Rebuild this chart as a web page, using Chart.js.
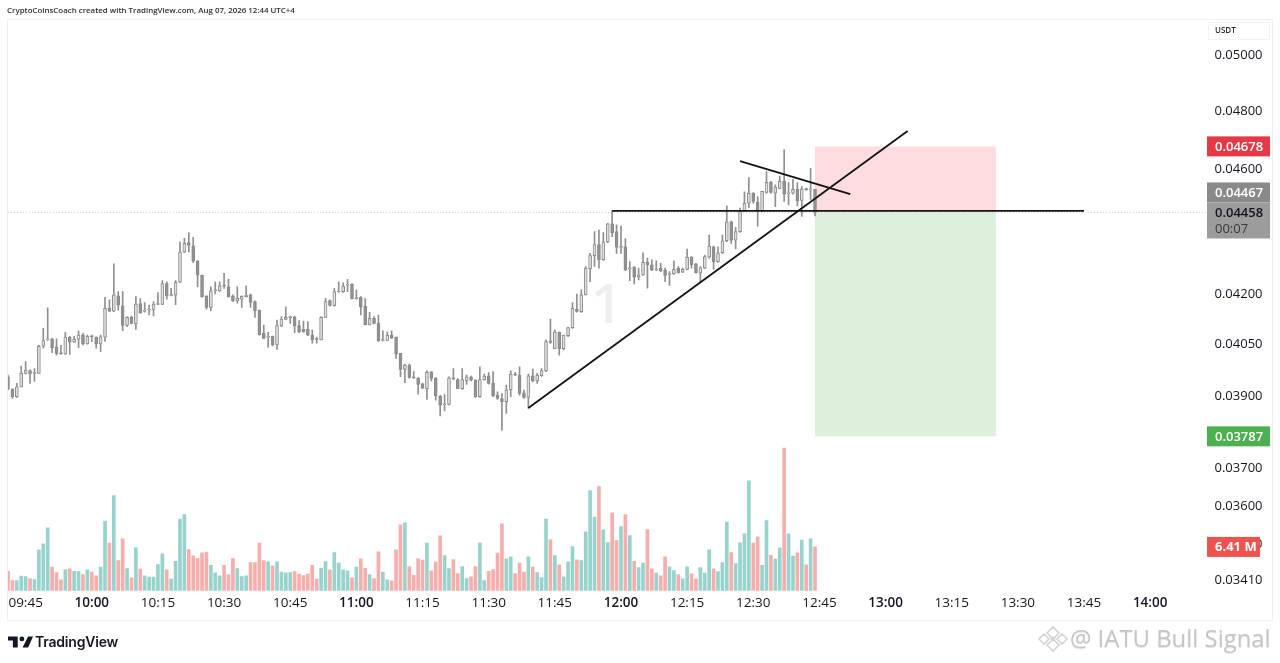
<!DOCTYPE html>
<html>
<head>
<meta charset="utf-8">
<title>CryptoCoinsCoach chart</title>
<script src="https://cdn.jsdelivr.net/npm/chart.js@4/dist/chart.umd.min.js"></script>
<style>
    html, body { margin: 0; padding: 0; background: #fff; }
    body { width: 1280px; height: 663px; overflow: hidden; position: relative; font-family: 'Open Sans', sans-serif; }
    #priceChart { position: absolute; left: 0; top: 0; }
    .header { position: absolute; left: 7px; top: 4px; font-size: 7.9px; line-height: 12px; font-weight: 600; color: #2a2e39; white-space: nowrap; }
    .interval { position: absolute; left: 591px; top: 267px; font-size: 54px; line-height: 70px; font-weight: 600; color: #efefef; }
    .tvLogo { position: absolute; left: 8px; top: 635px; }
    .tvName { position: absolute; left: 35px; top: 632px; font-family: Inter, sans-serif; font-size: 14px; line-height: 20px; font-weight: 600; color: #131722; letter-spacing: -0.2px; }
    .stamp { position: absolute; left: 1070px; top: 621px; font-size: 23.9px; line-height: 34px; color: #c6c6c6; white-space: nowrap; text-shadow: 0 1px 1px #e4e4e4; }
    .stampLogo { position: absolute; left: 1037px; top: 625px; }
</style>
</head>
<body>
<canvas id="priceChart" width="1280" height="663"></canvas>
<div class="header">CryptoCoinsCoach created with TradingView.com, Aug 07, 2026 12:44 UTC+4</div>
<div class="interval">1</div>
<svg class="tvLogo" width="25" height="14" viewBox="0 0 36 20"><path fill="#131722" d="M14 2H0v6h7v10h7zM29 18h-8l8-16h7z"/><circle cx="20" cy="5.5" r="3.5" fill="#131722"/></svg>
<div class="tvName">TradingView</div>
<svg class="stampLogo" width="32" height="28" viewBox="0 0 32 28" fill="none" stroke="#d4d4d4" stroke-width="1.6"><path d="M16 2l6 6-6 6-6-6zM7 9l5 5-5 5-5-5zM25 9l5 5-5 5-5-5zM16 14l6 6-6 6-6-6z"/><circle cx="16" cy="14" r="1.6" fill="#d4d4d4"/></svg>
<div class="stamp">@ IATU Bull Signal</div>

<script>
// one candle per minute, first one is 09:41
const opens = [
    0.03955, 0.03919, 0.03898, 0.03926, 0.03965, 0.03973, 0.03965, 0.03965, 0.04044, 0.04063,
    0.04065, 0.04042, 0.04024, 0.04021, 0.04071, 0.04056, 0.04065, 0.04078, 0.04051, 0.04074,
    0.04071, 0.04051, 0.04071, 0.04157, 0.04149, 0.04195, 0.04165, 0.04106, 0.04130, 0.04110,
    0.04172, 0.04148, 0.04152, 0.04154, 0.04169, 0.04169, 0.04233, 0.04196, 0.04197, 0.04237,
    0.04331, 0.04361, 0.04351, 0.04304, 0.04259, 0.04195, 0.04160, 0.04211, 0.04210, 0.04226,
    0.04223, 0.04195, 0.04180, 0.04185, 0.04193, 0.04198, 0.04178, 0.04152, 0.04082, 0.04070,
    0.04074, 0.04048, 0.04104, 0.04124, 0.04129, 0.04130, 0.04105, 0.04094, 0.04094, 0.04077,
    0.04065, 0.04063, 0.04130, 0.04181, 0.04165, 0.04207, 0.04208, 0.04228, 0.04231, 0.04187,
    0.04191, 0.04164, 0.04107, 0.04127, 0.04112, 0.04061, 0.04061, 0.04077, 0.04070, 0.04023,
    0.03976, 0.03989, 0.03953, 0.03951, 0.03935, 0.03921, 0.03969, 0.03951, 0.03900, 0.03875,
    0.03876, 0.03951, 0.03947, 0.03921, 0.03943, 0.03955, 0.03945, 0.03898, 0.03947, 0.03958,
    0.03936, 0.03902, 0.03893, 0.03884, 0.03918, 0.03962, 0.03960, 0.03909, 0.03896, 0.03958,
    0.03943, 0.03958, 0.03972, 0.04060, 0.04037, 0.04085, 0.04037, 0.04075, 0.04099, 0.04154,
    0.04147, 0.04198, 0.04279, 0.04320, 0.04355, 0.04307, 0.04363, 0.04421, 0.04396, 0.04346,
    0.04348, 0.04279, 0.04284, 0.04253, 0.04260, 0.04299, 0.04291, 0.04275, 0.04281, 0.04275,
    0.04261, 0.04263, 0.04281, 0.04268, 0.04277, 0.04315, 0.04294, 0.04265, 0.04281, 0.04315,
    0.04348, 0.04301, 0.04329, 0.04367, 0.04428, 0.04369, 0.04396, 0.04463, 0.04488, 0.04521,
    0.04491, 0.04463, 0.04524, 0.04557, 0.04521, 0.04537, 0.04560, 0.04519, 0.04521, 0.04534,
    0.04497, 0.04535, 0.04532, 0.04534
];
const closes = [
    0.03921, 0.03898, 0.03926, 0.03965, 0.03974, 0.03963, 0.03966, 0.04044, 0.04061, 0.04066,
    0.04040, 0.04023, 0.04022, 0.04071, 0.04056, 0.04065, 0.04077, 0.04051, 0.04073, 0.04072,
    0.04051, 0.04072, 0.04157, 0.04149, 0.04198, 0.04167, 0.04106, 0.04130, 0.04112, 0.04170,
    0.04144, 0.04150, 0.04154, 0.04170, 0.04170, 0.04233, 0.04195, 0.04197, 0.04237, 0.04331,
    0.04359, 0.04352, 0.04304, 0.04259, 0.04193, 0.04160, 0.04211, 0.04213, 0.04226, 0.04225,
    0.04193, 0.04180, 0.04188, 0.04194, 0.04197, 0.04175, 0.04150, 0.04078, 0.04067, 0.04072,
    0.04048, 0.04105, 0.04125, 0.04130, 0.04130, 0.04105, 0.04087, 0.04087, 0.04077, 0.04063,
    0.04064, 0.04130, 0.04178, 0.04166, 0.04208, 0.04208, 0.04225, 0.04230, 0.04186, 0.04189,
    0.04162, 0.04107, 0.04127, 0.04112, 0.04060, 0.04062, 0.04077, 0.04068, 0.04021, 0.03976,
    0.03989, 0.03953, 0.03952, 0.03933, 0.03923, 0.03968, 0.03950, 0.03900, 0.03874, 0.03877,
    0.03952, 0.03949, 0.03921, 0.03947, 0.03955, 0.03945, 0.03898, 0.03947, 0.03957, 0.03936,
    0.03901, 0.03893, 0.03884, 0.03917, 0.03963, 0.03960, 0.03907, 0.03896, 0.03958, 0.03943,
    0.03960, 0.03973, 0.04058, 0.04055, 0.04087, 0.04037, 0.04077, 0.04099, 0.04157, 0.04148,
    0.04198, 0.04281, 0.04320, 0.04355, 0.04307, 0.04364, 0.04421, 0.04393, 0.04346, 0.04348,
    0.04275, 0.04282, 0.04253, 0.04260, 0.04299, 0.04291, 0.04275, 0.04277, 0.04273, 0.04258,
    0.04263, 0.04277, 0.04267, 0.04277, 0.04315, 0.04291, 0.04267, 0.04282, 0.04317, 0.04350,
    0.04301, 0.04329, 0.04367, 0.04428, 0.04369, 0.04396, 0.04461, 0.04488, 0.04521, 0.04494,
    0.04463, 0.04527, 0.04557, 0.04524, 0.04541, 0.04560, 0.04518, 0.04521, 0.04534, 0.04496,
    0.04535, 0.04533, 0.04534, 0.04458
];
const highs = [
    0.03960, 0.03921, 0.03936, 0.03986, 0.03999, 0.03975, 0.03979, 0.04047, 0.04097, 0.04159,
    0.04068, 0.04066, 0.04047, 0.04085, 0.04073, 0.04073, 0.04090, 0.04082, 0.04077, 0.04077,
    0.04072, 0.04077, 0.04191, 0.04183, 0.04294, 0.04208, 0.04208, 0.04132, 0.04134, 0.04193,
    0.04187, 0.04175, 0.04167, 0.04178, 0.04205, 0.04242, 0.04238, 0.04218, 0.04242, 0.04364,
    0.04375, 0.04393, 0.04378, 0.04304, 0.04259, 0.04195, 0.04223, 0.04238, 0.04238, 0.04265,
    0.04246, 0.04198, 0.04223, 0.04195, 0.04226, 0.04201, 0.04180, 0.04152, 0.04107, 0.04085,
    0.04074, 0.04122, 0.04132, 0.04162, 0.04134, 0.04134, 0.04120, 0.04119, 0.04117, 0.04092,
    0.04071, 0.04132, 0.04188, 0.04183, 0.04218, 0.04238, 0.04235, 0.04246, 0.04233, 0.04213,
    0.04193, 0.04187, 0.04145, 0.04132, 0.04137, 0.04090, 0.04087, 0.04090, 0.04072, 0.04023,
    0.03992, 0.03992, 0.03970, 0.03953, 0.03937, 0.03972, 0.03970, 0.03953, 0.03902, 0.03904,
    0.03955, 0.03979, 0.03950, 0.03979, 0.03960, 0.03957, 0.03947, 0.03984, 0.03963, 0.03967,
    0.03970, 0.03912, 0.03907, 0.03931, 0.03972, 0.03967, 0.03984, 0.03917, 0.03963, 0.03977,
    0.03965, 0.03979, 0.04063, 0.04125, 0.04092, 0.04087, 0.04077, 0.04101, 0.04175, 0.04201,
    0.04214, 0.04286, 0.04327, 0.04396, 0.04401, 0.04393, 0.04423, 0.04464, 0.04418, 0.04414,
    0.04374, 0.04301, 0.04286, 0.04281, 0.04329, 0.04312, 0.04307, 0.04304, 0.04296, 0.04281,
    0.04270, 0.04304, 0.04286, 0.04281, 0.04341, 0.04317, 0.04296, 0.04286, 0.04322, 0.04385,
    0.04350, 0.04348, 0.04385, 0.04480, 0.04430, 0.04410, 0.04472, 0.04526, 0.04573, 0.04523,
    0.04510, 0.04527, 0.04593, 0.04560, 0.04549, 0.04578, 0.04666, 0.04556, 0.04567, 0.04556,
    0.04543, 0.04538, 0.04604, 0.04534
];
const lows = [
    0.03917, 0.03893, 0.03896, 0.03926, 0.03963, 0.03936, 0.03942, 0.03965, 0.04038, 0.04061,
    0.04025, 0.04018, 0.04021, 0.04021, 0.04020, 0.04055, 0.04040, 0.04048, 0.04050, 0.04058,
    0.04038, 0.04028, 0.04058, 0.04147, 0.04147, 0.04152, 0.04090, 0.04102, 0.04110, 0.04094,
    0.04142, 0.04146, 0.04137, 0.04134, 0.04168, 0.04168, 0.04185, 0.04195, 0.04168, 0.04236,
    0.04329, 0.04332, 0.04298, 0.04223, 0.04191, 0.04155, 0.04150, 0.04201, 0.04209, 0.04218,
    0.04191, 0.04178, 0.04173, 0.04160, 0.04191, 0.04160, 0.04130, 0.04077, 0.04066, 0.04041,
    0.04045, 0.04035, 0.04102, 0.04124, 0.04112, 0.04084, 0.04084, 0.04086, 0.04075, 0.04053,
    0.04053, 0.04063, 0.04130, 0.04164, 0.04164, 0.04206, 0.04206, 0.04208, 0.04186, 0.04185,
    0.04137, 0.04107, 0.04107, 0.04110, 0.04058, 0.04060, 0.04061, 0.04066, 0.04008, 0.03955,
    0.03938, 0.03951, 0.03950, 0.03905, 0.03921, 0.03890, 0.03943, 0.03888, 0.03844, 0.03858,
    0.03875, 0.03947, 0.03921, 0.03919, 0.03933, 0.03943, 0.03896, 0.03896, 0.03945, 0.03934,
    0.03898, 0.03890, 0.03804, 0.03851, 0.03898, 0.03958, 0.03902, 0.03893, 0.03865, 0.03940,
    0.03936, 0.03956, 0.03970, 0.04052, 0.04037, 0.04018, 0.04033, 0.04072, 0.04097, 0.04146,
    0.04145, 0.04197, 0.04239, 0.04286, 0.04281, 0.04305, 0.04361, 0.04380, 0.04327, 0.04327,
    0.04273, 0.04242, 0.04232, 0.04244, 0.04258, 0.04219, 0.04273, 0.04273, 0.04270, 0.04239,
    0.04227, 0.04261, 0.04265, 0.04267, 0.04275, 0.04281, 0.04265, 0.04239, 0.04279, 0.04312,
    0.04277, 0.04299, 0.04327, 0.04364, 0.04359, 0.04341, 0.04394, 0.04461, 0.04474, 0.04488,
    0.04414, 0.04461, 0.04521, 0.04521, 0.04477, 0.04535, 0.04494, 0.04483, 0.04518, 0.04479,
    0.04445, 0.04530, 0.04501, 0.04447
];
// volume in millions
const volumes = [
    2.84, 1.47, 1.47, 2.11, 2.06, 1.72, 1.62, 5.98, 6.86, 9.21,
    3.43, 2.65, 1.57, 3.09, 3.19, 2.84, 2.79, 2.35, 3.04, 2.70,
    2.16, 3.43, 10.19, 6.96, 13.97, 4.41, 7.60, 3.23, 1.86, 6.27,
    3.14, 2.16, 1.96, 1.96, 3.82, 5.39, 3.04, 1.67, 4.31, 10.49,
    11.17, 6.03, 5.10, 4.70, 5.54, 5.64, 3.72, 2.60, 2.16, 3.72,
    2.35, 4.70, 3.23, 2.06, 2.16, 4.12, 4.12, 6.96, 4.41, 4.21,
    3.63, 4.21, 2.70, 2.60, 2.65, 2.79, 2.40, 2.21, 2.40, 3.72,
    1.67, 3.28, 4.26, 3.04, 5.59, 4.02, 3.04, 2.89, 1.86, 3.43,
    4.66, 3.28, 2.35, 1.76, 5.68, 2.70, 1.57, 1.42, 5.98, 9.65,
    9.95, 3.53, 2.25, 4.66, 4.46, 6.96, 2.89, 4.17, 8.04, 5.15,
    3.23, 4.56, 2.50, 3.53, 1.76, 2.01, 3.53, 6.96, 1.47, 2.84,
    3.09, 5.49, 9.80, 4.66, 4.95, 2.50, 4.02, 2.70, 4.95, 3.43,
    2.65, 1.91, 10.49, 7.45, 5.15, 3.77, 2.01, 4.21, 6.47, 4.51,
    4.41, 8.62, 14.70, 10.78, 15.29, 8.92, 7.06, 11.42, 7.35, 9.41,
    11.17, 8.09, 4.31, 3.38, 4.02, 8.97, 3.19, 2.55, 2.16, 4.95,
    3.48, 2.94, 2.35, 1.72, 3.48, 2.45, 1.72, 3.38, 2.55, 5.98,
    3.19, 2.79, 4.12, 10.05, 5.59, 3.97, 7.01, 8.33, 16.12, 6.96,
    7.89, 3.72, 10.29, 5.19, 4.61, 6.27, 20.92, 8.33, 5.05, 5.54,
    7.40, 3.77, 7.60, 6.41
];

const timeTicks = ['09:45', '10:00', '10:15', '10:30', '10:45', '11:00', '11:15', '11:30', '11:45', '12:00',
    '12:15', '12:30', '12:45', '13:00', '13:15', '13:30', '13:45', '14:00'];
const priceTicks = [0.05, 0.048, 0.046, 0.042, 0.0405, 0.039, 0.037, 0.036, 0.035, 0.0341];

// drawings on the chart, all of them snap to a bar
const breakoutLine = [{ x: '11:58', y: 0.04463 }, { x: '13:45', y: 0.04463 }];
const supportLine = [{ x: '11:39', y: 0.03866 }, { x: '13:05', y: 0.04731 }];
const resistanceLine = [{ x: '12:27', y: 0.04628 }, { x: '12:52', y: 0.04518 }];
const lastPriceLine = [{ x: '09:41', y: 0.04458 }, { x: '14:13', y: 0.04458 }];
const positionStart = '12:44';
const positionEnd = '13:25';
const stopPrice = 0.04678;
const entryPrice = 0.04458;
const targetPrice = 0.03787;
const currentPrice = 0.04467;

// minute labels from 09:41 to 14:13
const minuteLabels = [];
for (let m = 9 * 60 + 41; m <= 14 * 60 + 13; m++) {
    minuteLabels.push(String(Math.floor(m / 60)).padStart(2, '0') + ':' + String(m % 60).padStart(2, '0'));
}

const candleIdx = opens.map((_, i) => i);
const isUp = i => closes[i] >= opens[i];

const AXIS_FONT = "'Open Sans', sans-serif";

// frame of the pane + the long/short position boxes behind the candles
const paneDecor = {
    id: 'paneDecor',
    beforeDatasetsDraw(chart) {
        const { ctx, scales: { x, y } } = chart;
        ctx.save();
        ctx.strokeStyle = '#efefef';
        ctx.lineWidth = 1;
        ctx.strokeRect(7.5, 19.5, 1265, 601);

        const left = x.getPixelForValue(minuteLabels.indexOf(positionStart));
        const right = x.getPixelForValue(minuteLabels.indexOf(positionEnd));
        const top = y.getPixelForValue(stopPrice);
        const mid = y.getPixelForValue(entryPrice);
        const bottom = y.getPixelForValue(targetPrice);
        ctx.fillStyle = '#fddde0';
        ctx.fillRect(left, top, right - left, mid - top);
        ctx.fillStyle = '#ddf0dc';
        ctx.fillRect(left, mid, right - left, bottom - mid);
        ctx.restore();
    }
};

function drawTag(ctx, left, width, cy, height, bg, fg, text, weight) {
    ctx.fillStyle = bg;
    ctx.fillRect(left, cy - height / 2, width, height);
    ctx.fillStyle = fg;
    ctx.font = (weight || 600) + ' 13px ' + AXIS_FONT;
    ctx.textAlign = 'left';
    ctx.textBaseline = 'middle';
    ctx.fillText(text, left + 8, cy + 0.5);
}

// price labels on the right axis
const axisTags = {
    id: 'axisTags',
    afterDraw(chart) {
        const { ctx, scales: { y, volume } } = chart;
        ctx.save();

        // USDT box
        ctx.strokeStyle = '#f2f2f2';
        ctx.strokeRect(1208.5, 22.5, 61, 17);
        ctx.fillStyle = '#2a2e39';
        ctx.font = '600 8px ' + AXIS_FONT;
        ctx.textAlign = 'left';
        ctx.textBaseline = 'middle';
        ctx.fillText('USDT', 1215, 31);

        drawTag(ctx, 1207, 63, y.getPixelForValue(stopPrice), 20, '#e63946', '#fff', stopPrice.toFixed(5));
        drawTag(ctx, 1207, 63, y.getPixelForValue(targetPrice), 20, '#4caf50', '#fff', targetPrice.toFixed(5));

        // these two overlap on the scale so TradingView stacks them
        const entryY = y.getPixelForValue(entryPrice);
        drawTag(ctx, 1207, 63, entryY - 20, 20, '#8a8a8a', '#fff', currentPrice.toFixed(5));
        ctx.fillStyle = '#9c9c9c';
        ctx.fillRect(1207, entryY - 10, 63, 36);
        ctx.fillStyle = '#131722';
        ctx.font = '600 13px ' + AXIS_FONT;
        ctx.fillText(entryPrice.toFixed(5), 1215, entryY + 0.5);
        ctx.fillStyle = '#3a3a3a';
        ctx.font = '400 13px ' + AXIS_FONT;
        ctx.fillText('00:07', 1215, entryY + 17);

        const lastVol = volumes[volumes.length - 1];
        drawTag(ctx, 1207, 53, volume.getPixelForValue(lastVol), 20, '#ef5350', '#fff', lastVol.toFixed(2) + ' M', 700);
        ctx.restore();
    }
};

const chart = new Chart(document.getElementById('priceChart'), {
    data: {
        labels: minuteLabels,
        datasets: [
            { type: 'line', data: breakoutLine, borderColor: '#131313', borderWidth: 1.8, pointRadius: 0, order: 1 },
            { type: 'line', data: supportLine, borderColor: '#131313', borderWidth: 1.8, pointRadius: 0, order: 1 },
            { type: 'line', data: resistanceLine, borderColor: '#131313', borderWidth: 1.8, pointRadius: 0, order: 1 },
            {
                type: 'bar',
                data: candleIdx.map(i => [opens[i], closes[i]]),
                backgroundColor: candleIdx.map(i => isUp(i) ? '#e0e0e0' : '#929292'),
                borderColor: '#8a8a8a',
                borderWidth: 1,
                borderSkipped: false,
                barThickness: 3,
                minBarLength: 1,
                grouped: false,
                order: 2
            },
            {
                type: 'bar',
                data: candleIdx.map(i => [lows[i], highs[i]]),
                backgroundColor: '#8f8f8f',
                barThickness: 1,
                grouped: false,
                order: 3
            },
            {
                type: 'line', data: lastPriceLine, borderColor: '#cfcfcf', borderWidth: 1,
                borderDash: [1, 2], pointRadius: 0, order: 4
            },
            {
                type: 'bar',
                yAxisID: 'volume',
                data: volumes,
                backgroundColor: candleIdx.map(i => isUp(i) ? '#97d3cc' : '#f5aeac'),
                barThickness: 3,
                grouped: false,
                order: 5
            }
        ]
    },
    options: {
        responsive: false,
        animation: false,
        events: [],
        layout: { padding: { left: 8, top: 19, right: 8, bottom: 43 } },
        plugins: { legend: { display: false }, tooltip: { enabled: false } },
        scales: {
            x: {
                type: 'category',
                offset: false,
                grid: { display: false, drawTicks: false },
                border: { display: false },
                afterBuildTicks(scale) {
                    scale.ticks = scale.ticks.filter(t => timeTicks.includes(minuteLabels[t.value]));
                },
                afterFit(scale) { scale.height = 26; },
                ticks: {
                    autoSkip: false,
                    maxRotation: 0,
                    padding: 1,
                    color: '#131722',
                    font: ctx => ({
                        family: AXIS_FONT,
                        size: 13.5,
                        weight: ctx.tick && ctx.tick.label.endsWith(':00') ? '600' : '400'
                    })
                }
            },
            y: {
                type: 'logarithmic',
                position: 'right',
                bounds: 'data',
                min: 0.03376,
                max: 0.05133,
                grid: { display: false, drawTicks: false },
                border: { display: false },
                afterBuildTicks(scale) {
                    scale.ticks = priceTicks.map(v => ({ value: v }));
                },
                afterFit(scale) { scale.width = 64.5; },
                ticks: {
                    autoSkip: false,
                    padding: 7,
                    color: '#131722',
                    font: { family: AXIS_FONT, size: 13 },
                    callback: v => v.toFixed(5)
                }
            },
            volume: {
                type: 'linear',
                display: false,
                min: -0.51,
                max: 84
            }
        }
    },
    plugins: [paneDecor, axisTags]
});
</script>
</body>
</html>
